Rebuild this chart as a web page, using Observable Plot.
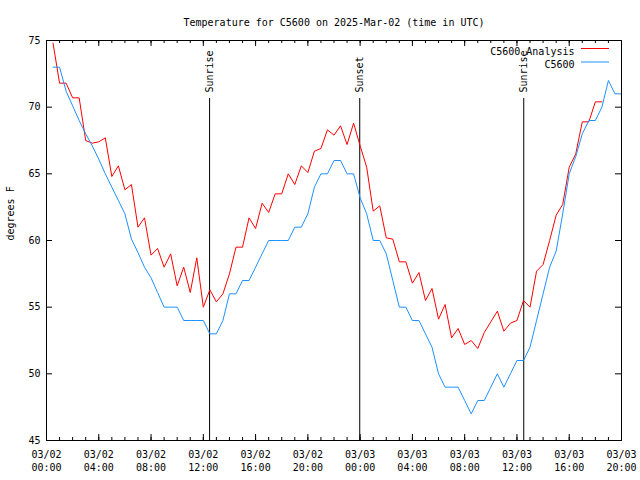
<!DOCTYPE html>
<html><head><meta charset="utf-8">
<script src="https://cdn.jsdelivr.net/npm/d3@7"></script>
<script src="https://cdn.jsdelivr.net/npm/@observablehq/plot@0.6"></script>
<style>body{margin:0;background:#fff} svg{display:block}</style>
</head><body><div id="chart"></div>
<script>
const title = "Temperature for C5600 on 2025-Mar-02 (time in UTC)";
const yLabel = "degrees F";
const startTime = "2025-03-02T00:00:00Z";
const endHour = 44;

const seriesNames = ["C5600 Analysis", "C5600"];
const seriesColors = ["#ff0000", "#1e90ff"];

const analysisHours = [0.5,1,1.5,2,2.5,3,3.5,4,4.5,5,5.5,6,6.5,7,7.5,8,8.5,9,9.5,10,10.5,11,11.5,12,12.5,13,13.5,14,14.5,15,15.5,16,16.5,17,17.5,18,18.5,19,19.5,20,20.5,21,21.5,22,22.5,23,23.5,24,24.5,25,25.5,26,26.5,27,27.5,28,28.5,29,29.5,30,30.5,31,31.5,32,32.5,33,33.5,34,34.5,35,35.5,36,36.5,37,37.5,38,38.5,39,39.5,40,40.5,41,41.5,42,42.5];
const analysisTemps = [74.8,71.8,71.8,70.7,70.7,67.5,67.3,67.4,67.7,64.8,65.6,63.8,64.2,61.0,61.7,58.9,59.4,58.0,59.0,56.6,58.0,56.1,58.7,55.0,56.3,55.4,56.0,57.5,59.5,59.5,61.7,60.9,62.8,62.1,63.5,63.5,65.0,64.2,65.6,65.1,66.7,66.9,68.3,67.9,68.6,67.2,68.8,67.1,65.5,62.2,62.6,60.2,60.1,58.4,58.4,56.8,57.6,55.5,56.4,54.1,55.2,52.7,53.4,52.2,52.5,51.9,53.1,53.9,54.7,53.2,53.8,54.0,55.5,55.0,57.7,58.2,60.0,61.9,62.7,65.5,66.5,68.9,68.9,70.4,70.4];

const stationHours = [0.5,1,1.5,2,2.5,3,3.5,4,4.5,5,5.5,6,6.5,7,7.5,8,8.5,9,9.5,10,10.5,11,11.5,12,12.5,13,13.5,14,14.5,15,15.5,16,16.5,17,17.5,18,18.5,19,19.5,20,20.5,21,21.5,22,22.5,23,23.5,24,24.5,25,25.5,26,26.5,27,27.5,28,28.5,29,29.5,30,30.5,31,31.5,32,32.5,33,33.5,34,34.5,35,35.5,36,36.5,37,37.5,38,38.5,39,39.5,40,40.5,41,41.5,42,42.5,43,43.5,44];
const stationTemps = [73,73,71.2,70.1,69.0,68.0,67.1,66.1,65.0,64.0,63.0,62.0,60.1,59.1,58.0,57.2,56.1,55,55,55,54,54,54,54,53,53,54,56,56,57,57,58,59,60,60,60,60,61,61,62,64,65,65,66,66,65,65,63.2,62,60,60,59,57,55,55,54,54,53,52,50,49,49,49,48,47,48,48,49,50,49,50,51,51,52,54,56,58,59.2,62,65,66.3,68,69,69,70,72,71,71];

const eventHours = [12.48, 23.97, 36.52];
const eventLabels = ["Sunrise", "Sunset", "Sunrise"];

const yTicks = [45, 50, 55, 60, 65, 70, 75];
const xLabelHours = [0, 4, 8, 12, 16, 20, 24, 28, 32, 36, 40, 44];
const xMinorHours = d3.range(0, 45, 1);

const t0 = Date.parse(startTime);
const t = h => new Date(t0 + h * 3600e3);
const fmt = d3.utcFormat("%m/%d\n%H:%M");

const analysis = analysisHours.map((h, i) => ({time: t(h), temp: analysisTemps[i]}));
const station = stationHours.map((h, i) => ({time: t(h), temp: stationTemps[i]}));
const events = eventHours.map((h, i) => ({time: t(h), label: eventLabels[i]}));

const W = 640, H = 480, mL = 46, mR = 19, mT = 40, mB = 40;
const fw = W - mL - mR, fh = H - mT - mB;
const font = "DejaVu Sans Mono";

const legendMark = (index, scales, values, dims) => {
  const g = d3.create("svg:g");
  const xr = dims.width - dims.marginRight;
  seriesNames.forEach((name, i) => {
    const y = dims.marginTop + 8 + i * 13.5 + 0.5;
    g.append("line").attr("x1", xr - 40).attr("x2", xr - 12).attr("y1", y).attr("y2", y)
      .attr("stroke", seriesColors[i]).attr("stroke-width", 1);
  });
  return g.node();
};

const chart = Plot.plot({
  width: W, height: H,
  marginLeft: mL, marginRight: mR, marginTop: mT, marginBottom: mB,
  style: {fontFamily: font, fontSize: "10px", background: "#fff", color: "#000"},
  x: {type: "utc", domain: [t(0), t(endHour)], axis: null},
  y: {domain: [45, 75], axis: null},
  marks: [
    Plot.ruleX(xMinorHours, {x: h => t(h), insetTop: fh - 3, stroke: "#000"}),
    Plot.ruleX(xMinorHours, {x: h => t(h), insetBottom: fh - 3, stroke: "#000"}),
    Plot.ruleX(xLabelHours, {x: h => t(h), insetTop: fh - 6, stroke: "#000"}),
    Plot.ruleX(xLabelHours, {x: h => t(h), insetBottom: fh - 6, stroke: "#000"}),
    Plot.ruleY(yTicks, {y: d => d, insetRight: fw - 6, stroke: "#000"}),
    Plot.ruleY(yTicks, {y: d => d, insetLeft: fw - 6, stroke: "#000"}),
    Plot.ruleX(events, {x: "time", insetTop: 58, stroke: "#000"}),
    Plot.text(events, {x: "time", text: "label", frameAnchor: "top", dy: 52, rotate: -90,
      textAnchor: "start", lineAnchor: "middle", fill: "#000", fontSize: 10}),
    Plot.line(analysis, {x: "time", y: "temp", stroke: seriesColors[0], strokeWidth: 1}),
    Plot.line(station, {x: "time", y: "temp", stroke: seriesColors[1], strokeWidth: 1}),
    Plot.frame({stroke: "#000"}),
    Plot.text(xLabelHours, {x: h => t(h), text: h => fmt(t(h)), frameAnchor: "bottom",
      lineAnchor: "top", dy: 8, lineHeight: 1.3, fill: "#000", fontSize: 10}),
    Plot.text(yTicks, {y: d => d, text: d => String(d), frameAnchor: "left",
      textAnchor: "end", dx: -6, fill: "#000", fontSize: 10}),
    Plot.text([title], {frameAnchor: "top", dy: -22, fill: "#000", fontSize: 10}),
    Plot.text([yLabel], {frameAnchor: "left", dx: -36, rotate: -90, fill: "#000", fontSize: 10}),
    Plot.text([seriesNames[0]], {frameAnchor: "top-right", dx: -47, dy: 7, textAnchor: "end", fill: "#000", fontSize: 10}),
    Plot.text([seriesNames[1]], {frameAnchor: "top-right", dx: -47, dy: 20.5, textAnchor: "end", fill: "#000", fontSize: 10}),
    legendMark
  ]
});
document.getElementById("chart").appendChild(chart);
</script>
</body></html>
